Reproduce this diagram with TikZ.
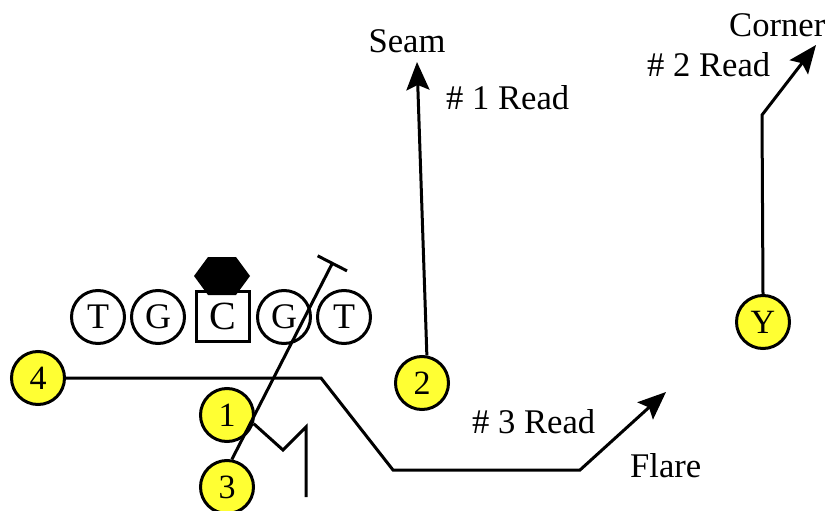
\documentclass[tikz,border=0pt]{standalone}
\usepackage{fontspec}
\setmainfont{Liberation Serif}
\usetikzlibrary{arrows.meta, positioning}

\definecolor{playeryellow}{RGB}{255,255,51}

\begin{document}
\begin{tikzpicture}[x=1pt, y=-1pt,
                lineman/.style={draw=black, line width=3pt, circle, fill=white, minimum size=53pt, inner sep=0pt, font=\fontsize{36}{36}\selectfont},
                centerbox/.style={draw=black, line width=3pt, rectangle, fill=white, minimum width=53pt, minimum height=50pt, inner sep=0pt, font=\fontsize{40}{40}\selectfont},
                skill/.style={draw=black, line width=3pt, circle, fill=playeryellow, minimum size=53pt, inner sep=0pt, font=\fontsize{34}{34}\selectfont},
                route/.style={line width=3pt},
                readarrow/.style={-{Stealth[length=28pt, width=23pt, inset=5pt]}},
                routelabel/.style={inner sep=0pt, font=\fontsize{34.6}{34.6}\selectfont}
            ]
            \useasboundingbox (0,0) rectangle (838,511);

            % Linie
            \node[lineman] (LT) at (98,317) {T};
            \node[lineman] (LG) at (158,317) {G};
            \node[centerbox] (C) at (223,316) {C};
            \node[lineman] (RG) at (284,317) {G};
            \node[lineman] (RT) at (344,317) {T};
            \fill (208,257) -- (236,257) -- (250,276) -- (236,295) -- (208,295) -- (194,276) -- cycle;

            % Passempfaenger
            \node[skill] (P4) at (38,378) {4};
            \node[skill] (P1) at (227,415) {1};
            \node[skill] (P3) at (227,487) {3};
            \node[skill] (P2) at (422,383) {2};
            \node[skill] (PY) at (763,322) {Y};

            % Beschriftungen
            \node[routelabel] (seam) at (407,41) {Seam};
            \node[routelabel, anchor=west] (read1) at (446,98) {\# 1 Read};
            \node[routelabel, anchor=west] (corner) at (729,25) {Corner};
            \node[routelabel, anchor=west] (read2) at (647,65) {\# 2 Read};
            \node[routelabel, anchor=west] (read3) at (472,422) {\# 3 Read};
            \node[routelabel, anchor=west] (flare) at (630,466) {Flare};

            \coordinate (seamend) at (417,62);
            \coordinate (cornerbreak) at (762,115);
            \coordinate (cornerend) at (816,45);
            \coordinate (flareend) at (666,392);
            \coordinate (blockend) at (333,262);

            % Routen
            \draw[route, readarrow] (P2.80) -- (seamend);
            \draw[route, readarrow] (PY.north) -- (cornerbreak) -- (cornerend);
            \draw[route, readarrow] (P4.east) -- (321,378) -- (393,470) -- (580,470) -- (flareend);
            \draw[route, -{Bar[width=33pt]}] (P3.80) -- (blockend);
            \draw[route] (P1.-18) -- (283,450) -- (306,427) -- (306,497);

        \end{tikzpicture}
\end{document}
